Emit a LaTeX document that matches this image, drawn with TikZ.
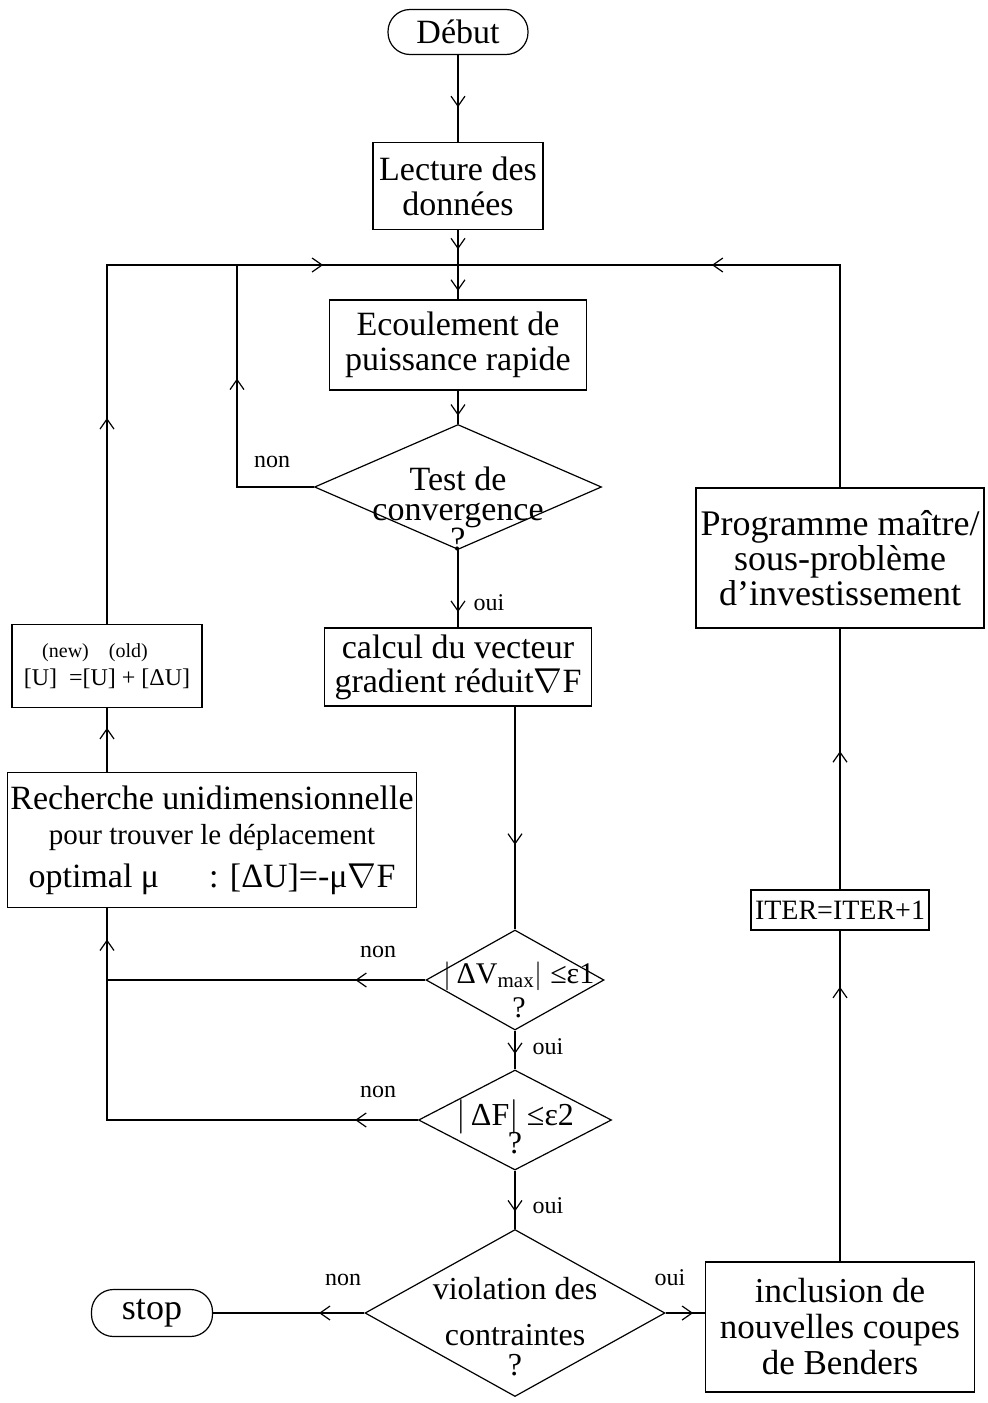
\documentclass[tikz,border=0pt]{standalone}
\usepackage{fontspec}
\setmainfont{Liberation Serif}
\usetikzlibrary{positioning, calc, arrows.meta, shapes.geometric, decorations.markings}

\tikzset{
  flow/.style={line width=0.6pt},
  tipat/.style={postaction={decorate, decoration={markings,
      mark=at position #1 with {\arrow{Straight Barb[length=5pt, width=7pt, line width=0.6pt]}}}}},
  box/.style={draw, line width=0.6pt, align=center, inner sep=0pt, font=\fontsize{17}{17.5}\selectfont},
  term/.style={box, rounded corners=11pt},
  decision/.style={draw, diamond, line width=0.6pt, inner sep=0pt},
  dtext/.style={align=center, inner sep=0pt, font=\fontsize{16}{17}\selectfont,
      execute at begin node={\setlength{\lineskiplimit}{-100pt}}},
  lbl/.style={inner sep=0pt, font=\fontsize{12}{14}\selectfont},
}

\begin{document}
\begin{tikzpicture}[x=0.5pt, y=-0.5pt]
    \useasboundingbox (0,0) rectangle (987,1403);
    \node[term, minimum width=70pt, minimum height=22.5pt] (debut) at (458,32) {Début};
    \node[box, minimum width=85pt, minimum height=43.5pt] (lect) at (458,186) {Lecture des\\données};
    \coordinate (jn) at (458,265);
    \coordinate (nonup) at (237,265);
    \node[box, minimum width=128.5pt, minimum height=45pt] (ecoul) at (458,345) {Ecoulement de\\puissance rapide};
    \node[decision, minimum width=143.5pt, minimum height=62.5pt] (test) at (458,487) {};
    \node[dtext, font=\fontsize{17}{15}\selectfont] (testq) at (458,509) {Test de\\convergence\\?};
    \node[box, minimum width=133.5pt, minimum height=39pt, font=\fontsize{17}{17}\selectfont] (calc) at (458,667) {calcul du vecteur\\gradient réduit$\nabla$F};
    \node[decision, minimum width=89pt, minimum height=50pt] (dv) at (515,980) {};
    \node[dtext, font=\fontsize{15}{17}\selectfont] (dvq) at (519,990) {$\big|$\,ΔV\textsubscript{max}$\big|$ ≤ε1\\?};
    \node[decision, minimum width=96.5pt, minimum height=50pt] (df) at (515,1120) {};
    \node[dtext, font=\fontsize{16}{14}\selectfont] (dfq) at (515,1127) {$\big|$\,ΔF$\big|$ ≤ε2\\?};
    \node[decision, minimum width=150pt, minimum height=83.5pt] (viol) at (515,1313) {};
    \node[dtext] (violq) at (515,1327) {violation des\\[6pt]contraintes\\[-2pt]?};
    \node[term, minimum width=60.5pt, minimum height=23.5pt, font=\fontsize{18}{18}\selectfont] (stop) at (152,1313) {stop};
    \node[box, minimum width=134.5pt, minimum height=65pt, font=\fontsize{17.5}{18}\selectfont] (incl) at (840,1327) {inclusion de\\nouvelles coupes\\de Benders};
    \node[box, minimum width=89pt, minimum height=20pt, font=\fontsize{14}{14}\selectfont] (iter) at (840,910) {ITER=ITER+1};
    \node[box, minimum width=144pt, minimum height=70pt, font=\fontsize{18}{17.5}\selectfont] (prog) at (840,558) {Programme maître/\\sous-problème\\d'investissement};
    \node[box, minimum width=95pt, minimum height=41.5pt, font=\fontsize{12}{14}\selectfont] (ubox) at (107,666) {{\fontsize{10}{11}\selectfont (new)\hspace{10pt}(old)\hspace*{12pt}}\\{}[U]\hspace{6pt}=[U] + [ΔU]};
    \node[box, minimum width=204.5pt, minimum height=67.5pt] (rech) at (212,840) {Recherche unidimensionnelle\\{\fontsize{14.5}{14}\selectfont pour trouver le déplacement}\\[4pt]optimal μ\hspace{25pt}: [ΔU]=-μ$\nabla$F};
    \node[lbl] (non1) at (272,462) {non};
    \node[lbl] (oui1) at (489,603) {oui};
    \node[lbl] (non2) at (378,952) {non};
    \node[lbl] (oui2) at (548,1047) {oui};
    \node[lbl] (non3) at (378,1092) {non};
    \node[lbl] (oui3) at (548,1206) {oui};
    \node[lbl] (non4) at (343,1280) {non};
    \node[lbl] (oui4) at (670,1278) {oui};
    \draw[flow, tipat=0.6] (debut) -- (lect);
    \draw[flow, tipat=0.55] (lect) -- (jn);
    \draw[flow, tipat=0.75] (jn) -- (ecoul);
    \draw[flow, tipat=0.75] (ecoul) -- (test);
    \draw[flow, tipat=0.8] (test) -- (calc);
    \draw[flow, tipat=0.62] (calc.south -| dv.north) -- (dv.north);
    \draw[flow, tipat=0.6] (dv) -- (df);
    \draw[flow, tipat=0.7] (df) -- (viol);
    \draw[flow, tipat=0.3] (viol.west) -- (stop.east);
    \draw[flow, tipat=0.7] (viol.east) -- (viol.east -| incl.west);
    \draw[flow, tipat=0.83] (incl) -- (iter);
    \draw[flow, tipat=0.53] (iter) -- (prog);
    \draw[flow, tipat=0.58] (prog) |- (jn);
    \draw[flow, tipat=0.29, tipat=0.81] (ubox) |- (jn);
    \draw[flow, tipat=0.62] (test.west) -| (nonup);
    \draw[flow, tipat=0.69] (rech.north -| ubox.south) -- (ubox.south);
    \draw[flow, tipat=0.22] (dv.west) -- (dv.west -| ubox.south);
    \draw[flow, tipat=0.12, tipat=0.94] (df.west) -| (rech.south -| ubox.south);
\end{tikzpicture}
\end{document}
